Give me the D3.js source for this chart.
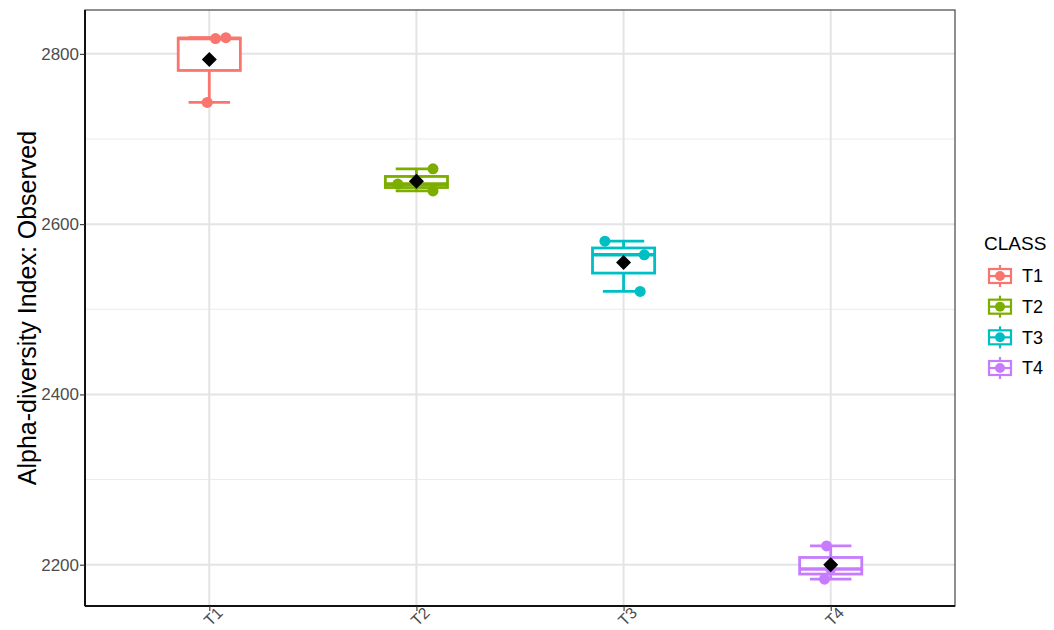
<!DOCTYPE html>
<html>
<head>
<meta charset="utf-8">
<script src="https://cdn.jsdelivr.net/npm/d3@7"></script>
<style>
  html, body { margin: 0; padding: 0; background: #ffffff; }
  svg { display: block; font-family: "Liberation Sans", Arial, sans-serif; }
</style>
</head>
<body>
<svg id="chart" width="1054" height="630"></svg>
<script>
// Observed richness per sample, grouped by class
const categories = ["T1", "T2", "T3", "T4"];
const observedT1 = [2819, 2818, 2743];
const observedT2 = [2665, 2647, 2639];
const observedT3 = [2580, 2564, 2521];
const observedT4 = [2222, 2195, 2183];
const observed = [observedT1, observedT2, observedT3, observedT4];
const yMajorTicks = [2200, 2400, 2600, 2800];
const yMinorTicks = [2300, 2500, 2700];
const colors = ["#F8766D", "#7CAE00", "#00BFC4", "#C77CFF"];
const yTitle = "Alpha-diversity Index: Observed";
const legendTitle = "CLASS";

// horizontal jitter of the sample dots (fraction of category step)
const jitter = [
  [0.08, 0.03, -0.01],
  [0.08, -0.09, 0.08],
  [-0.09, 0.10, 0.08],
  [-0.02, 0.0, -0.03]
];

const svg = d3.select("#chart");
const panel = { left: 85, right: 955, top: 10, bottom: 606 };

const x = d3.scalePoint()
  .domain(categories)
  .range([panel.left, panel.right])
  .padding(0.6);

const y = d3.scaleLinear()
  .domain([2151.5, 2851.5])
  .range([panel.bottom, panel.top]);

const step = x.step();
const boxW = 0.3 * step;
const capW = 0.2 * step;

// grid
const grid = svg.append("g");
grid.selectAll(".minor").data(yMinorTicks).join("line")
  .attr("x1", panel.left).attr("x2", panel.right)
  .attr("y1", d => y(d)).attr("y2", d => y(d))
  .attr("stroke", "#ebebeb").attr("stroke-width", 1);
grid.selectAll(".major").data(yMajorTicks).join("line")
  .attr("x1", panel.left).attr("x2", panel.right)
  .attr("y1", d => y(d)).attr("y2", d => y(d))
  .attr("stroke", "#e4e4e4").attr("stroke-width", 2);
grid.selectAll(".vmajor").data(categories).join("line")
  .attr("x1", d => x(d)).attr("x2", d => x(d))
  .attr("y1", panel.top).attr("y2", panel.bottom)
  .attr("stroke", "#e4e4e4").attr("stroke-width", 2);

// box statistics
const stats = observed.map((vals, i) => {
  const s = vals.slice().sort(d3.ascending);
  return {
    cat: categories[i],
    color: colors[i],
    min: d3.min(s),
    q1: d3.quantile(s, 0.25),
    med: d3.quantile(s, 0.5),
    q3: d3.quantile(s, 0.75),
    max: d3.max(s),
    mean: d3.mean(s)
  };
});

const lw = 2.8;
const boxes = svg.append("g");
stats.forEach(st => {
  const cx = x(st.cat);
  const g = boxes.append("g").attr("stroke", st.color).attr("stroke-width", lw).attr("fill", "none");
  // whiskers with caps
  g.append("line").attr("x1", cx).attr("x2", cx).attr("y1", y(st.min)).attr("y2", y(st.max));
  g.append("line").attr("x1", cx - capW / 2).attr("x2", cx + capW / 2).attr("y1", y(st.max)).attr("y2", y(st.max));
  g.append("line").attr("x1", cx - capW / 2).attr("x2", cx + capW / 2).attr("y1", y(st.min)).attr("y2", y(st.min));
  // box
  g.append("rect")
    .attr("x", cx - boxW / 2).attr("width", boxW)
    .attr("y", y(st.q3)).attr("height", y(st.q1) - y(st.q3))
    .attr("fill", "#ffffff");
  g.append("line").attr("x1", cx - boxW / 2).attr("x2", cx + boxW / 2)
    .attr("y1", y(st.med)).attr("y2", y(st.med)).attr("stroke-width", lw * 1.3);
});

// sample dots
const dots = svg.append("g");
observed.forEach((vals, i) => {
  dots.selectAll(null).data(vals).join("circle")
    .attr("cx", (d, j) => x(categories[i]) + jitter[i][j] * step)
    .attr("cy", d => y(d))
    .attr("r", 5.5)
    .attr("fill", colors[i]);
});

// mean markers (diamonds)
svg.append("g").selectAll("path").data(stats).join("path")
  .attr("d", d => {
    const cx = x(d.cat), cy = y(d.mean), r = 7.5;
    return `M${cx},${cy - r}L${cx + r},${cy}L${cx},${cy + r}L${cx - r},${cy}Z`;
  })
  .attr("fill", "#000000");

// panel border and axis lines
svg.append("rect")
  .attr("x", panel.left).attr("y", panel.top)
  .attr("width", panel.right - panel.left).attr("height", panel.bottom - panel.top)
  .attr("fill", "none").attr("stroke", "#333333").attr("stroke-width", 1.1);
svg.append("line")
  .attr("x1", panel.left).attr("x2", panel.right).attr("y1", panel.bottom).attr("y2", panel.bottom)
  .attr("stroke", "#111111").attr("stroke-width", 2);
svg.append("line")
  .attr("x1", panel.left).attr("x2", panel.left).attr("y1", panel.top).attr("y2", panel.bottom)
  .attr("stroke", "#111111").attr("stroke-width", 2);

// y axis
const yAxis = svg.append("g")
  .attr("transform", `translate(${panel.left},0)`)
  .call(d3.axisLeft(y).tickValues(yMajorTicks).tickSize(5).tickPadding(1).tickFormat(d3.format("d")));
yAxis.select(".domain").remove();
yAxis.selectAll(".tick line").attr("stroke", "#333333").attr("stroke-width", 1.1);
yAxis.selectAll(".tick text")
  .attr("fill", "#4d4d4d").attr("font-size", 17)
  .attr("font-family", "Liberation Sans, Arial, sans-serif");

// x axis
const xAxis = svg.append("g")
  .attr("transform", `translate(0,${panel.bottom})`)
  .call(d3.axisBottom(x).tickSize(5).tickPadding(3));
xAxis.select(".domain").remove();
xAxis.selectAll(".tick line").attr("stroke", "#333333").attr("stroke-width", 1.1);
xAxis.selectAll(".tick text")
  .attr("fill", "#4d4d4d").attr("font-size", 16)
  .attr("font-family", "Liberation Sans, Arial, sans-serif")
  .attr("text-anchor", "end")
  .attr("dy", null)
  .attr("y", 0)
  .attr("transform", "translate(10,4) rotate(-45)")
  .attr("dominant-baseline", "central");

// y axis title
svg.append("text")
  .attr("transform", `translate(36,${(panel.top + panel.bottom) / 2}) rotate(-90)`)
  .attr("text-anchor", "middle")
  .attr("font-size", 25)
  .attr("fill", "#000000")
  .text(yTitle);

// legend
const legend = svg.append("g");
legend.append("text")
  .attr("x", 984).attr("y", 250)
  .attr("font-size", 19).attr("fill", "#000000")
  .text(legendTitle);
const keyY = d3.scalePoint().domain(categories).range([276, 368]);
categories.forEach((c, i) => {
  const ky = keyY(c), kx = 1000;
  const g = legend.append("g").attr("stroke", colors[i]).attr("stroke-width", 2.2).attr("fill", "none");
  g.append("line").attr("x1", kx).attr("x2", kx).attr("y1", ky - 11).attr("y2", ky + 11);
  g.append("rect").attr("x", kx - 11).attr("y", ky - 7).attr("width", 22).attr("height", 14).attr("fill", "#ffffff");
  g.append("line").attr("x1", kx - 11).attr("x2", kx + 11).attr("y1", ky).attr("y2", ky);
  legend.append("circle").attr("cx", kx).attr("cy", ky).attr("r", 5).attr("fill", colors[i]);
  legend.append("text")
    .attr("x", 1022).attr("y", ky)
    .attr("dy", "0.36em")
    .attr("font-size", 18).attr("fill", "#000000")
    .text(c);
});
</script>
</body>
</html>
